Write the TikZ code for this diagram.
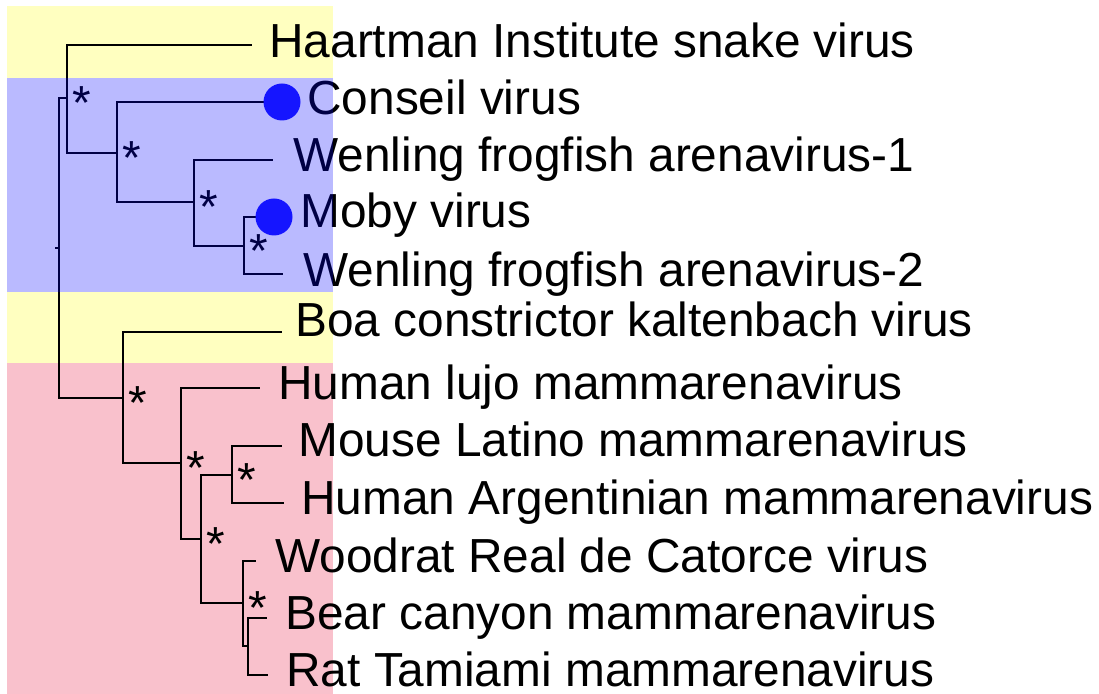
\documentclass[tikz,border=0pt]{standalone}
\usepackage{fontspec}
\setmainfont{Liberation Sans}
\usepackage{tikz}
\usetikzlibrary{calc}
\definecolor{cladeyellow}{RGB}{255,255,192}
\definecolor{cladepink}{RGB}{249,193,204}
\definecolor{cladeblue}{RGB}{0,0,255}
\definecolor{tipblue}{RGB}{30,30,255}

\begin{document}
\begin{tikzpicture}[x=0.5pt,y=-0.5pt,
  branch/.style={line width=1.45pt,black},
  taxon/.style={anchor=base west,inner sep=0pt,font=\fontsize{23.9}{28}\selectfont},
  support/.style={anchor=base,inner sep=0pt,font=\fontsize{23.9}{28}\selectfont},
  tipdot/.style={circle,fill=tipblue,minimum size=18.5pt,inner sep=0pt}]
\useasboundingbox (0,0) rectangle (1099,694);
\fill[cladeyellow] (7,6) rectangle (333,78);
\fill[cladeyellow] (7,292) rectangle (333,363);
\fill[cladepink] (7,363) rectangle (333,694);

\coordinate (stub) at (55,248);
\coordinate (root) at (59,248);
\coordinate (nA) at (67,98);
\coordinate (nC) at (117,153);
\coordinate (nD) at (194,202);
\coordinate (nE) at (244,246);
\coordinate (nB) at (123,398);
\coordinate (nF) at (181,463);
\coordinate (nG) at (201,539);
\coordinate (nH) at (232,475);
\coordinate (nI) at (243,603);
\coordinate (nJ) at (248,646);

\coordinate (tHaa) at (252,45);
\coordinate (tCon) at (282,102);
\coordinate (tWen1) at (273,160);
\coordinate (tMoby) at (274,217);
\coordinate (tWen2) at (283,274);
\coordinate (tBoa) at (282,332);
\coordinate (tLujo) at (260,388);
\coordinate (tMouse) at (282,446);
\coordinate (tArg) at (284,503);
\coordinate (tWood) at (256,561);
\coordinate (tBear) at (267,618);
\coordinate (tRat) at (268,675);

\draw[branch] (stub) -- (root);
\draw[branch] (root) |- (nA);
\draw[branch] (root) |- (nB);
\draw[branch] (nA) |- (tHaa);
\draw[branch] (nA) |- (nC);
\draw[branch] (nC) |- (tCon);
\draw[branch] (nC) |- (nD);
\draw[branch] (nD) |- (tWen1);
\draw[branch] (nD) |- (nE);
\draw[branch] (nE) |- (tMoby);
\draw[branch] (nE) |- (tWen2);
\draw[branch] (nB) |- (tBoa);
\draw[branch] (nB) |- (nF);
\draw[branch] (nF) |- (tLujo);
\draw[branch] (nF) |- (nG);
\draw[branch] (nG) |- (nH);
\draw[branch] (nG) |- (nI);
\draw[branch] (nH) |- (tMouse);
\draw[branch] (nH) |- (tArg);
\draw[branch] (nI) |- (tWood);
\draw[branch] (nI) |- (nJ);
\draw[branch] (nJ) |- (tBear);
\draw[branch] (nJ) |- (tRat);

\node[tipdot] (dCon) at (tCon) {};
\node[tipdot] (dMoby) at (tMoby) {};

\node[support] (sA) at ($(nA)+(15,22)$) {*};
\node[support] (sC) at ($(nC)+(15,22)$) {*};
\node[support] (sD) at ($(nD)+(15,22)$) {*};
\node[support] (sE) at ($(nE)+(15,22)$) {*};
\node[support] (sB) at ($(nB)+(15,22)$) {*};
\node[support] (sF) at ($(nF)+(15,22)$) {*};
\node[support] (sG) at ($(nG)+(15,22)$) {*};
\node[support] (sH) at ($(nH)+(15,22)$) {*};
\node[support] (sI) at ($(nI)+(15,22)$) {*};

\node[taxon] (lHaa) at (269,58) {Haartman Institute snake virus};
\node[taxon] (lCon) at (307,115) {Conseil virus};
\node[taxon] (lWen1) at (293,172) {Wenling frogfish arenavirus-1};
\node[taxon] (lMoby) at (300,228) {Moby virus};
\node[taxon] (lWen2) at (303,287) {Wenling frogfish arenavirus-2};
\node[taxon] (lBoa) at (295,337) {Boa constrictor kaltenbach virus};
\node[taxon] (lLujo) at (278,400) {Human lujo mammarenavirus};
\node[taxon] (lMouse) at (298,457) {Mouse Latino mammarenavirus};
\node[taxon] (lArg) at (301,515) {Human Argentinian mammarenavirus};
\node[taxon] (lWood) at (275,573) {Woodrat Real de Catorce virus};
\node[taxon] (lBear) at (285,630) {Bear canyon mammarenavirus};
\node[taxon] (lRat) at (286,687) {Rat Tamiami mammarenavirus};

\fill[cladeblue,opacity=.27] (7,78) rectangle (333,292);
\end{tikzpicture}
\end{document}
